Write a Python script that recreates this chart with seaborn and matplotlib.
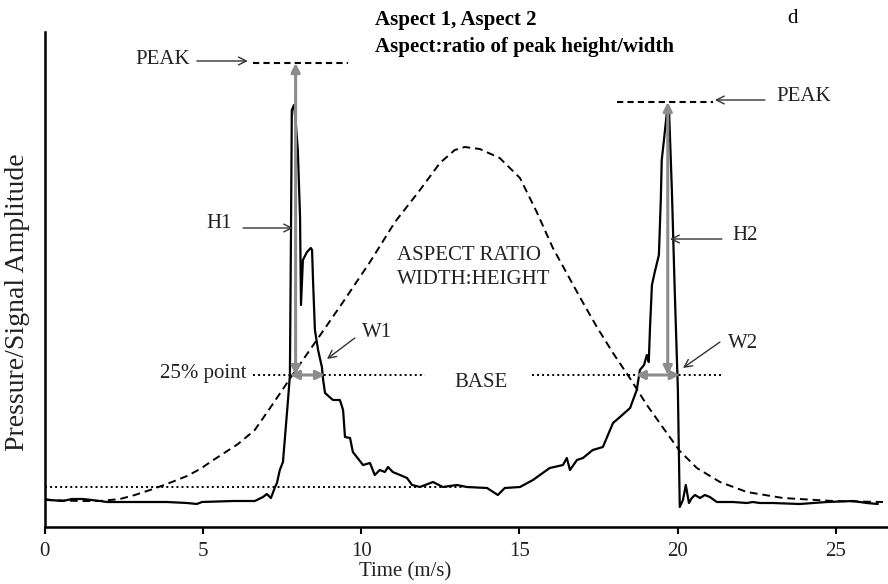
import matplotlib
matplotlib.use("Agg")
import matplotlib.pyplot as plt
import seaborn as sns
import pandas as pd

# Pressure trace (time in s, amplitude in arbitrary units)
time_s = [0.0, 0.17, 0.58, 0.86, 1.21, 1.75, 1.97, 2.79, 3.86, 4.50, 4.81, 4.97,
          5.95, 6.64, 6.90, 7.02, 7.15, 7.21, 7.28, 7.34, 7.43, 7.53, 7.69, 7.75,
          7.78, 7.81, 7.88, 7.94, 8.00, 8.07, 8.10, 8.16, 8.29, 8.41, 8.45, 8.48,
          8.54, 8.64, 8.76, 8.80, 8.86, 9.11, 9.33, 9.43, 9.49, 9.65, 9.74, 10.06,
          10.28, 10.43, 10.59, 10.75, 10.85, 11.00, 11.23, 11.45, 11.61, 11.86,
          12.27, 12.58, 13.03, 13.34, 13.98, 14.32, 14.54, 15.02, 15.43, 15.96,
          16.38, 16.50, 16.60, 16.82, 17.01, 17.32, 17.64, 17.96, 18.18, 18.50,
          18.71, 18.81, 18.94, 19.03, 19.09, 19.13, 19.19, 19.28, 19.41, 19.47,
          19.50, 19.57, 19.66, 19.73, 19.82, 19.91, 20.01, 20.04, 20.07, 20.17,
          20.26, 20.36, 20.45, 20.55, 20.71, 20.86, 21.02, 21.24, 21.75, 22.19,
          22.38, 22.60, 23.01, 23.86, 24.72, 25.54, 25.98, 26.33]
amplitude = [5.6, 5.4, 5.2, 5.6, 5.6, 5.2, 5.0, 5.0, 5.0, 4.8, 4.6, 5.0,
             5.2, 5.2, 6.0, 6.6, 5.8, 6.8, 8.0, 8.8, 11.4, 13.0, 25.4, 30.4,
             55.4, 83.4, 84.4, 80.4, 75.4, 62.0, 44.4, 53.4, 55.0, 55.8, 55.4, 49.4,
             39.4, 35.4, 32.0, 29.4, 26.8, 25.4, 25.4, 23.4, 18.0, 17.8, 15.0, 12.4,
             12.8, 10.4, 11.4, 11.0, 12.0, 11.0, 10.4, 9.8, 8.4, 8.0,
             9.0, 8.0, 8.4, 8.0, 7.8, 6.4, 7.8, 8.0, 9.4, 11.8,
             12.4, 13.8, 11.4, 13.4, 13.8, 15.4, 16.0, 20.8, 22.0, 23.8,
             27.4, 31.4, 32.4, 34.4, 33.0, 40.0, 48.4, 51.0, 54.4, 65.4,
             73.4, 77.4, 82.8, 83.4, 67.4, 47.4, 27.4, 15.4, 4.0, 5.4,
             8.4, 4.8, 5.8, 6.4, 5.8, 6.4, 6.0, 5.0, 5.0, 4.8,
             5.0, 4.8, 4.8, 4.6, 5.0, 5.2, 4.8, 4.6]

# Broad envelope (dashed)
env_time = [0.0, 1.12, 1.75, 2.38, 2.85, 3.33, 3.86, 4.50, 4.91, 5.38, 6.11, 6.64,
            7.21, 7.85, 8.60, 9.43, 10.28, 11.07, 11.86, 12.49, 12.96, 13.28, 13.75,
            14.38, 15.02, 15.55, 16.06, 16.91, 17.45, 17.96, 18.49, 19.03, 19.66,
            20.07, 20.61, 21.34, 22.19, 23.33, 24.91, 26.49]
env_amp = [5.4, 5.2, 5.2, 5.6, 6.4, 7.4, 8.6, 10.2, 11.6, 13.6, 16.6, 19.4,
           24.6, 30.6, 37.4, 45.0, 53.0, 61.0, 67.4, 72.8, 75.4, 76.0, 75.6,
           73.8, 69.8, 63.0, 55.8, 46.0, 40.0, 34.8, 29.8, 24.4, 18.8,
           15.2, 11.8, 9.0, 7.0, 5.8, 5.2, 5.0]

# Reference levels
baseline_level = 8.0
baseline_span = [0.0, 13.19]
quarter_level = 30.4
quarter_left = [6.58, 12.01]
quarter_right = [15.40, 21.40]
peak1_level, peak1_span = 92.8, [6.58, 9.58]
peak2_level, peak2_span = 85.0, [18.08, 21.12]

# Height / width measurements
h1_x, h2_x = 7.93, 19.69
w1_span = [7.75, 8.86]
w2_span = [18.68, 20.07]

x_ticks = [0, 5, 10, 15, 20, 25]

sns.set_theme(style="white")
plt.rcParams["font.family"] = ["Liberation Serif", "DejaVu Serif"]

fig = plt.figure(figsize=(8.88, 5.84), dpi=100)
ax = fig.add_axes([0.0503, 0.0976, 0.9497, 0.8476])

trace = pd.DataFrame({"t": time_s, "a": amplitude})
env = pd.DataFrame({"t": env_time, "a": env_amp})

sns.lineplot(data=env, x="t", y="a", ax=ax, color="black", lw=1.4,
             linestyle=(0, (4, 2.5)), sort=False, estimator=None)
sns.lineplot(data=trace, x="t", y="a", ax=ax, color="black", lw=1.6,
             sort=False, estimator=None)

dot = (0, (1, 1.6))
ax.plot(baseline_span, [baseline_level] * 2, color="black", lw=1.4, linestyle=dot)
ax.plot(quarter_left, [quarter_level] * 2, color="black", lw=1.4, linestyle=dot)
ax.plot(quarter_right, [quarter_level] * 2, color="black", lw=1.4, linestyle=dot)
ax.plot(peak1_span, [peak1_level] * 2, color="black", lw=1.5, linestyle=(0, (3, 2)))
ax.plot(peak2_span, [peak2_level] * 2, color="black", lw=1.5, linestyle=(0, (3, 2)))

grey = "#8c8c8c"
gprops = dict(arrowstyle="<|-|>", color=grey, lw=2.2, mutation_scale=13,
              shrinkA=0, shrinkB=0)
ax.annotate("", xy=(h1_x, peak1_level), xytext=(h1_x, quarter_level), arrowprops=gprops)
ax.annotate("", xy=(h2_x, peak2_level), xytext=(h2_x, quarter_level), arrowprops=gprops)
ax.annotate("", xy=(w1_span[1], quarter_level), xytext=(w1_span[0], quarter_level),
            arrowprops=gprops)
ax.annotate("", xy=(w2_span[1], quarter_level), xytext=(w2_span[0], quarter_level),
            arrowprops=gprops)

tcol = "#222222"
lprops = dict(arrowstyle="->", color="#333333", lw=1.0, mutation_scale=14,
              shrinkA=0, shrinkB=0)
fs = 15
ax.annotate("", xy=(6.42, 93.2), xytext=(4.81, 93.2), arrowprops=lprops)
ax.text(4.60, 93.6, "PEAK", ha="right", va="center", fontsize=fs, color=tcol)
ax.annotate("", xy=(21.18, 85.4), xytext=(22.76, 85.4), arrowprops=lprops)
ax.text(23.12, 86.2, "PEAK", ha="left", va="center", fontsize=fs, color=tcol)
ax.annotate("", xy=(7.85, 59.8), xytext=(6.27, 59.8), arrowprops=lprops)
ax.text(5.92, 60.8, "H1", ha="right", va="center", fontsize=fs, color=tcol)
ax.annotate("", xy=(19.76, 57.6), xytext=(21.40, 57.6), arrowprops=lprops)
ax.text(21.72, 58.4, "H2", ha="left", va="center", fontsize=fs, color=tcol)
ax.annotate("", xy=(8.92, 33.6), xytext=(9.80, 37.8), arrowprops=lprops)
ax.text(10.03, 39.0, "W1", ha="left", va="center", fontsize=fs, color=tcol)
ax.annotate("", xy=(20.17, 31.8), xytext=(21.34, 37.0), arrowprops=lprops)
ax.text(21.59, 36.8, "W2", ha="left", va="center", fontsize=fs, color=tcol)
ax.text(6.39, 30.8, "25% point", ha="right", va="center", fontsize=fs, color=tcol)
ax.text(13.80, 29.0, "BASE", ha="center", va="center", fontsize=fs, color=tcol)
ax.text(11.13, 54.4, "ASPECT RATIO", ha="left", va="center", fontsize=fs, color=tcol)
ax.text(11.13, 49.6, "WIDTH:HEIGHT", ha="left", va="center", fontsize=fs, color=tcol)

fig.text(0.422, 0.966, "Aspect 1, Aspect 2", ha="left", va="center",
         fontsize=15, fontweight="bold", color="black")
fig.text(0.422, 0.9195, "Aspect:ratio of peak height/width", ha="left", va="center",
         fontsize=15, fontweight="bold", color="black")
fig.text(0.886, 0.969, "d", ha="left", va="center", fontsize=15, color="black")
fig.text(18 / 888, 1 - 302 / 584, "Pressure/Signal Amplitude", rotation=90,
         ha="center", va="center", fontsize=20, color=tcol)
fig.text(405 / 888, 1 - 572 / 584, "Time (m/s)", ha="center", va="center",
         fontsize=15, color=tcol)

ax.set_xlim(0, 26.65)
ax.set_ylim(0, 99)
ax.set_xticks(x_ticks)
ax.set_xticklabels([str(t) for t in x_ticks])
ax.set_yticks([])
ax.set_xlabel("")
ax.set_ylabel("")
ax.tick_params(axis="x", direction="out", length=5, width=1.5, pad=6,
               labelsize=15, colors="black", labelcolor=tcol, bottom=True)
for side in ("top", "right"):
    ax.spines[side].set_visible(False)
for side in ("left", "bottom"):
    ax.spines[side].set_color("black")
    ax.spines[side].set_linewidth(1.8)

fig.savefig("out.png", dpi=100)
